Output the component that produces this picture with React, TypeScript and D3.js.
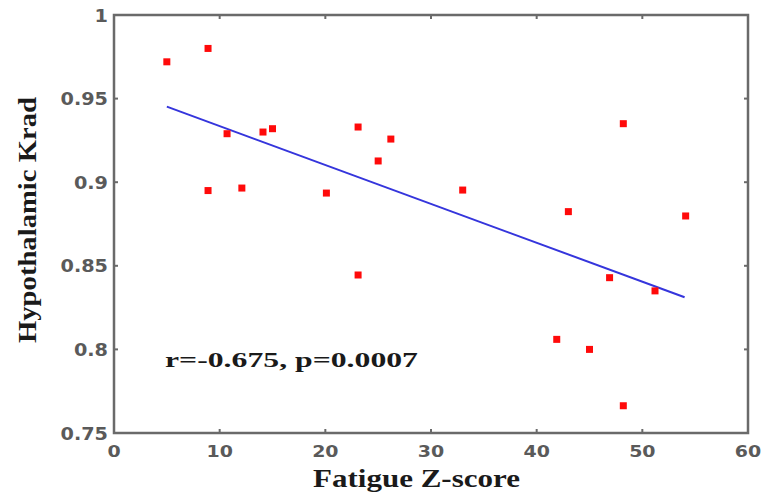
import React from "react";
import * as d3 from "d3";

const fatigueZ = [5.0, 8.9, 8.9, 10.7, 12.1, 14.1, 15.0, 20.1, 23.1, 23.1, 25.0, 26.2, 33.0, 43.0, 48.2, 54.1, 46.9, 51.2, 41.9, 45.0, 48.2];
const krad = [0.972, 0.980, 0.895, 0.929, 0.8965, 0.930, 0.932, 0.8935, 0.933, 0.8445, 0.9127, 0.9258, 0.8953, 0.8824, 0.935, 0.8798, 0.8429, 0.835, 0.806, 0.800, 0.7663];
const fitX = [5.0, 54.0];
const fitY = [0.9452, 0.8312];
const xTicks = [0, 10, 20, 30, 40, 50, 60];
const yTicks = [0.75, 0.8, 0.85, 0.9, 0.95, 1];
const xTickLabels = ["0", "10", "20", "30", "40", "50", "60"];
const yTickLabels = ["0.75", "0.8", "0.85", "0.9", "0.95", "1"];
const annotation = "r=-0.675, p=0.0007";
const xLabel = "Fatigue Z-score";
const yLabel = "Hypothalamic Krad";

export default function App() {
  const W = 766, H = 497;
  const L = 114, R = 748, T = 15, B = 433;
  const x = d3.scaleLinear().domain([0, 60]).range([L, R]);
  const y = d3.scaleLinear().domain([0.75, 1]).range([B, T]);
  const line = d3.line<number>().x((_, i) => x(fitX[i])).y((_, i) => y(fitY[i]));
  const frame = "#6a6a6a";
  const tickColor = "#5a5a5a";
  const tickFont = "'DejaVu Sans', sans-serif";
  const serif = "'Liberation Serif', 'Times New Roman', serif";
  const tl = 4;
  const ms = 7;
  return (
    <svg width={W} height={H} style={{ position: "absolute", left: 0, top: 0, background: "#fff" }}>
      <rect x={0} y={0} width={W} height={H} fill="#fff" />
      {/* ticks */}
      {xTicks.slice(1, -1).map((t) => (
        <g key={"xt" + t}>
          <line x1={x(t)} x2={x(t)} y1={B} y2={B - tl} stroke={frame} strokeWidth={2} />
          <line x1={x(t)} x2={x(t)} y1={T} y2={T + tl} stroke={frame} strokeWidth={2} />
        </g>
      ))}
      {yTicks.slice(1, -1).map((t) => (
        <g key={"yt" + t}>
          <line x1={L} x2={L + tl} y1={y(t)} y2={y(t)} stroke={frame} strokeWidth={2} />
          <line x1={R} x2={R - tl} y1={y(t)} y2={y(t)} stroke={frame} strokeWidth={2} />
        </g>
      ))}
      <rect x={L} y={T} width={R - L} height={B - T} fill="none" stroke={frame} strokeWidth={2.5} />
      {/* tick labels */}
      {xTicks.map((t, i) => (
        <text key={"xl" + t} transform={`translate(${x(t)},457) scale(1.15,1)`} textAnchor="middle"
          fontFamily={tickFont} fontWeight="bold" fontSize={16.5} fill={tickColor}>{xTickLabels[i]}</text>
      ))}
      {yTicks.map((t, i) => (
        <text key={"yl" + t} transform={`translate(108,${y(t) + 6.5}) scale(1.1,1)`} textAnchor="end"
          fontFamily={tickFont} fontWeight="bold" fontSize={17.5} fill={tickColor}>{yTickLabels[i]}</text>
      ))}
      {/* fit line */}
      <path d={line(fitX) || ""} fill="none" stroke="#3535dc" strokeWidth={2} />
      {/* points */}
      {fatigueZ.map((v, i) => (
        <rect key={"p" + i} x={x(v) - ms / 2} y={y(krad[i]) - ms / 2} width={ms} height={ms} fill="#ff0a0a" />
      ))}
      {/* annotation */}
      <text x={165} y={367} fontFamily={serif} fontWeight="bold" fontSize={21} fill="#1a1a1a"
        textLength={253} lengthAdjust="spacingAndGlyphs">{annotation}</text>
      {/* axis labels */}
      <text x={313} y={487} fontFamily={serif} fontWeight="bold" fontSize={25} fill="#1a1a1a"
        textLength={207} lengthAdjust="spacingAndGlyphs">{xLabel}</text>
      <text transform={`translate(36,343) rotate(-90)`} fontFamily={serif} fontWeight="bold" fontSize={26} fill="#1a1a1a"
        textLength={246} lengthAdjust="spacingAndGlyphs">{yLabel}</text>
    </svg>
  );
}
